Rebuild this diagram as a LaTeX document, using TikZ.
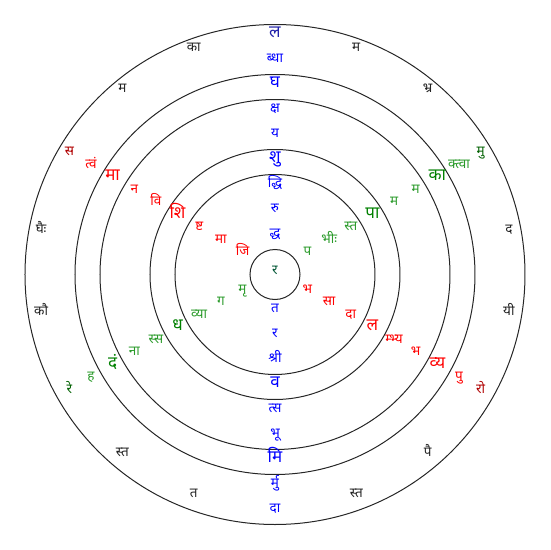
\documentclass[tikz,border=0pt]{standalone}
\usepackage{fontspec}
\usetikzlibrary{calc}
\newfontfamily\deva[Script=Devanagari]{Noto Sans}
\definecolor{cblue}{HTML}{0000FF}
\definecolor{cblueout}{HTML}{2222AA}
\definecolor{cred}{HTML}{FF0000}
\definecolor{credout}{HTML}{B00000}
\definecolor{cgreen}{HTML}{008000}
\definecolor{cgreenreg}{HTML}{2A9A2A}
\definecolor{cgreenout}{HTML}{006000}
\definecolor{cblack}{HTML}{222222}
\definecolor{ccenter}{HTML}{005533}
\begin{document}
\begin{tikzpicture}[x=1pt,y=1pt,
  reg/.style={anchor=base,inner sep=0pt,font=\deva\fontsize{13.5}{13.5}\selectfont},
  bld/.style={anchor=base,inner sep=0pt,font=\deva\bfseries\fontsize{17}{17}\selectfont},
  vreg/.style={reg,text=cblue}, vbld/.style={bld,text=cblue}, vout/.style={bld,text=cblueout}, vend/.style={reg,text=cblue},
  rreg/.style={reg,text=cred}, rbld/.style={bld,text=cred}, rout/.style={reg,text=credout},
  greg/.style={reg,text=cgreenreg}, gbld/.style={bld,text=cgreen}, gout/.style={reg,text=cgreenout},
  kreg/.style={reg,text=cblack},
  ring/.style={draw=black!85,line width=1pt}]
\useasboundingbox (-275,-275.5) rectangle (275,274.5);
\coordinate (c) at (0,0);
\foreach \r in {25,100,125,175,200,250} \draw[ring] (c) circle (\r);
% centre
\node[reg,text=ccenter] (ctr) at (c) {र};
% vertical spoke, upper half
\foreach \k/\t/\s in {8/ल/vout,7/ब्धा/vreg,6/घ/vbld,5/क्ष/vreg,4/य/vreg,3/शु/vbld,2/द्धि/vreg,1/रु/vreg,0/द्ध/vreg}
  \node[\s] (vt\k) at ($(c)+(90:{37.5+25*\k})$) {\t};
% vertical spoke, lower half
\foreach \k/\t/\s in {0/त/vreg,1/र/vreg,2/श्री/vreg,3/व/vbld,4/त्स/vreg,5/भू/vreg,6/मि/vbld,7/र्मु/vreg,8/दा/vend}
  \node[\s] (vb\k) at ($(c)+(270:{37.5+25*\k})$) {\t};
% green spoke, upper right
\foreach \k/\t/\s in {8/मु/gout,7/क्त्वा/greg,6/का/gbld,5/म/greg,4/म/greg,3/पा/gbld,2/स्त/greg,1/भीः/greg,0/प/greg}
  \node[\s] (gu\k) at ($(c)+(30:{37.5+25*\k})$) {\t};
% green spoke, lower left
\foreach \k/\t/\s in {0/मृ/greg,1/ग/greg,2/व्या/greg,3/ध/gbld,4/स्स/greg,5/ना/greg,6/दं/gbld,7/ह/greg,8/रे/gout}
  \node[\s] (gl\k) at ($(c)+(210:{37.5+25*\k})$) {\t};
% red spoke, upper left
\foreach \k/\t/\s in {8/स/rout,7/त्वं/rreg,6/मा/rbld,5/न/rreg,4/वि/rreg,3/शि/rbld,2/ष्ट/rreg,1/मा/rreg,0/जि/rreg}
  \node[\s] (ru\k) at ($(c)+(150:{37.5+25*\k})$) {\t};
% red spoke, lower right
\foreach \k/\t/\s in {0/भ/rreg,1/सा/rreg,2/दा/rreg,3/ल/rbld,4/म्भ्य/rreg,5/भ/rreg,6/व्य/rbld,7/पु/rreg,8/रो/rout}
  \node[\s] (rl\k) at ($(c)+(330:{37.5+25*\k})$) {\t};
% outer ring letters
\foreach \a/\t in {70/म,50/भ्र,10/द,-10/यी,-50/पै,-70/स्त,-110/त,-130/स्त,-170/कौ,170/घैः,130/म,110/का}
  \node[kreg] (o\a) at ($(c)+(\a:237.5)$) {\t};
\end{tikzpicture}
\end{document}
